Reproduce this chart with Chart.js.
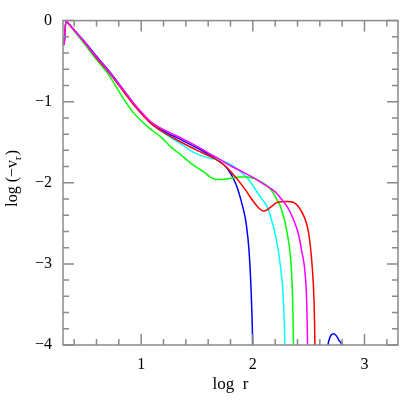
<!DOCTYPE html>
<html>
<head>
<meta charset="utf-8">
<script src="https://cdn.jsdelivr.net/npm/chart.js@4.4.0/dist/chart.umd.min.js"></script>
<style>
  html, body { margin: 0; padding: 0; background: #fff; }
  #wrap { width: 407px; height: 407px; }
</style>
</head>
<body>
<div id="wrap"><canvas id="vrChart"></canvas></div>
<script>
// axis ranges and labelled ticks
const xRange = [0.3, 3.3];
const yRange = [-4, 0];
const xTicks = [1, 2, 3];
const yTicks = [0, -1, -2, -3, -4];
const minorStep = 0.2;

// curves, [log r, log(-v_r)]
const magentaCurve = [[0.31,-0.30],[0.327,0],[0.334,-0.012],[0.5,-0.28],[0.6,-0.45],[0.735,-0.67],[0.85,-0.87],[0.94,-1.03],
  [1.09,-1.25],[1.24,-1.37],[1.36,-1.45],[1.5,-1.55],[1.6,-1.63],[1.69,-1.70],[1.8,-1.79],[1.9,-1.86],
  [2.01,-1.94],[2.1,-2.02],[2.19,-2.10],[2.25,-2.19],[2.31,-2.30],[2.36,-2.44],[2.41,-2.64],[2.44,-2.86],
  [2.464,-3.06],[2.482,-3.46],[2.49,-4.0],[2.492,-4.3]];
const redCurve = [[0.31,-0.30],[0.327,0],[0.334,-0.012],[0.5,-0.28],[0.6,-0.46],[0.735,-0.68],[0.85,-0.89],[0.94,-1.05],
  [1.09,-1.27],[1.24,-1.41],[1.36,-1.50],[1.5,-1.60],[1.655,-1.70],[1.75,-1.79],[1.804,-1.865],[1.92,-2.06],
  [2.01,-2.24],[2.06,-2.32],[2.10,-2.35],[2.16,-2.30],[2.22,-2.24],[2.31,-2.23],[2.36,-2.24],[2.40,-2.28],
  [2.46,-2.42],[2.50,-2.62],[2.533,-3.06],[2.548,-3.46],[2.556,-4.0],[2.558,-4.3]];
const greenCurve = [[0.31,-0.30],[0.327,0],[0.334,-0.012],[0.5,-0.30],[0.6,-0.48],[0.70,-0.65],[0.85,-0.98],[0.94,-1.15],
  [1.06,-1.31],[1.18,-1.44],[1.268,-1.56],[1.36,-1.66],[1.446,-1.76],[1.52,-1.83],[1.565,-1.87],[1.62,-1.93],
  [1.67,-1.96],[1.72,-1.96],[1.804,-1.945],[1.88,-1.93],[1.952,-1.93],[2.04,-1.964],[2.10,-2.01],[2.16,-2.08],
  [2.22,-2.22],[2.25,-2.30],[2.31,-2.64],[2.345,-3.06],[2.357,-3.46],[2.364,-4.0],[2.366,-4.3]];
const greenTail = [[2.79,-4.1],[2.80,-3.98],[2.81,-4.1]];
const cyanCurve = [[0.31,-0.30],[0.327,0],[0.334,-0.012],[0.5,-0.28],[0.6,-0.46],[0.735,-0.68],[0.85,-0.89],[0.94,-1.05],
  [1.09,-1.27],[1.24,-1.42],[1.357,-1.52],[1.45,-1.61],[1.536,-1.665],[1.62,-1.70],[1.714,-1.72],[1.833,-1.80],
  [1.952,-1.944],[2.07,-2.18],[2.13,-2.30],[2.176,-2.50],[2.205,-2.66],[2.25,-3.06],[2.274,-3.46],[2.286,-4.0],[2.288,-4.3]];
const blueCurve = [[0.31,-0.30],[0.327,0],[0.334,-0.012],[0.5,-0.27],[0.6,-0.44],[0.735,-0.66],[0.85,-0.87],[0.94,-1.04],
  [1.09,-1.27],[1.24,-1.39],[1.36,-1.47],[1.5,-1.57],[1.65,-1.69],[1.77,-1.82],[1.85,-2.02],[1.91,-2.30],
  [1.94,-2.50],[1.967,-2.86],[1.988,-3.46],[1.998,-4.0],[2.0,-4.3]];
const blueBump = [[2.66,-4.1],[2.68,-3.95],[2.70,-3.88],[2.726,-3.86],[2.75,-3.89],[2.775,-3.95],[2.795,-4.0],[2.80,-4.1]];

const serif = "'Liberation Serif', 'DejaVu Serif', serif";

function toPoints(arr) {
  return arr.map(p => ({ x: p[0], y: p[1] }));
}

function curve(arr, color) {
  return {
    data: toPoints(arr),
    borderColor: color,
    borderWidth: 1.5,
    pointRadius: 0,
    showLine: true,
    fill: false,
    cubicInterpolationMode: 'monotone',
    clip: 0
  };
}

// frame with inward ticks on all four sides + axis titles
const frameTicks = {
  id: 'frameTicks',
  afterDatasetsDraw(chart) {
    const { ctx, chartArea: a, scales: { x, y } } = chart;
    ctx.save();
    ctx.strokeStyle = '#8a8a8a';
    ctx.lineWidth = 1.5;
    ctx.strokeRect(a.left, a.top, a.right - a.left, a.bottom - a.top);
    ctx.beginPath();
    for (let i = Math.ceil(x.min / minorStep - 1e-6); i * minorStep <= x.max + 1e-6; i++) {
      const v = i * minorStep;
      const len = Math.abs(v - Math.round(v)) < 1e-6 ? 11 : 6;
      const px = x.getPixelForValue(v);
      ctx.moveTo(px, a.bottom); ctx.lineTo(px, a.bottom - len);
      ctx.moveTo(px, a.top); ctx.lineTo(px, a.top + len);
    }
    for (let i = Math.ceil(y.min / minorStep - 1e-6); i * minorStep <= y.max + 1e-6; i++) {
      const v = i * minorStep;
      const len = Math.abs(v - Math.round(v)) < 1e-6 ? 11 : 6;
      const py = y.getPixelForValue(v);
      ctx.moveTo(a.left, py); ctx.lineTo(a.left + len, py);
      ctx.moveTo(a.right, py); ctx.lineTo(a.right - len, py);
    }
    ctx.stroke();

    ctx.fillStyle = '#000';
    ctx.font = '17px ' + serif;
    ctx.textAlign = 'center';
    ctx.textBaseline = 'alphabetic';
    ctx.fillText('log  r', (a.left + a.right) / 2, 389);

    // y title with subscript
    ctx.translate(17, (a.top + a.bottom) / 2 - 4);
    ctx.rotate(-Math.PI / 2);
    const main = 'log (\u2212v';
    const close = ')';
    ctx.font = '16px ' + serif;
    const w1 = ctx.measureText(main).width;
    const w3 = ctx.measureText(close).width;
    ctx.font = '11px ' + serif;
    const w2 = ctx.measureText('r').width;
    let sx = -(w1 + w2 + w3) / 2;
    ctx.textAlign = 'left';
    ctx.font = '16px ' + serif;
    ctx.fillText(main, sx, 0);
    ctx.font = '11px ' + serif;
    ctx.fillText('r', sx + w1, 4);
    ctx.font = '16px ' + serif;
    ctx.fillText(close, sx + w1 + w2 + 1, 0);
    ctx.restore();
  }
};

new Chart(document.getElementById('vrChart'), {
  type: 'scatter',
  data: {
    datasets: [
      curve(magentaCurve, '#ff00ff'),
      curve(redCurve, '#ff0000'),
      curve(greenCurve, '#00ff00'),
      curve(greenTail, '#00ff00'),
      curve(cyanCurve, '#00ffff'),
      curve(blueCurve, '#0000ff'),
      curve(blueBump, '#0000ff')
    ]
  },
  options: {
    responsive: true,
    maintainAspectRatio: false,
    animation: false,
    layout: { padding: { top: 11, right: 9, left: 0, bottom: 0 } },
    plugins: { legend: { display: false }, tooltip: { enabled: false } },
    scales: {
      x: {
        type: 'linear',
        min: xRange[0],
        max: xRange[1],
        grid: { display: false, drawTicks: false },
        border: { display: false },
        afterBuildTicks: s => { s.ticks = xTicks.map(v => ({ value: v })); },
        afterFit: s => { s.height = 62; },
        ticks: {
          padding: 10,
          color: '#000',
          font: { family: serif, size: 16 },
          maxRotation: 0,
          callback: v => String(v)
        }
      },
      y: {
        type: 'linear',
        min: yRange[0],
        max: yRange[1],
        grid: { display: false, drawTicks: false },
        border: { display: false },
        afterBuildTicks: s => { s.ticks = yTicks.map(v => ({ value: v })); },
        afterFit: s => { s.width = 63; },
        ticks: {
          padding: 11,
          color: '#000',
          font: { family: serif, size: 16 },
          callback: v => (v < 0 ? '\u2212' + Math.abs(v) : String(v))
        }
      }
    }
  },
  plugins: [frameTicks]
});
</script>
</body>
</html>
